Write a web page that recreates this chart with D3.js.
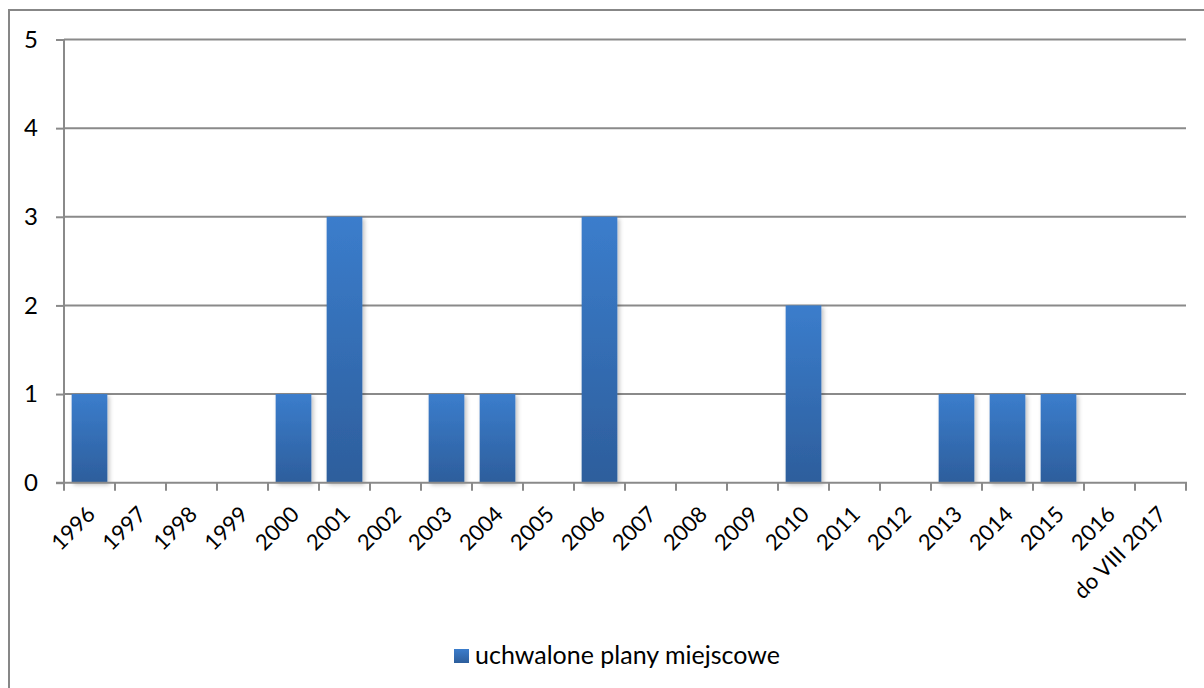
<!DOCTYPE html>
<html>
<head>
<meta charset="utf-8">
<script src="https://cdn.jsdelivr.net/npm/d3@7"></script>
<style>
  html, body { margin: 0; padding: 0; background: #fff; }
  svg { display: block; font-family: Lato, "Liberation Sans", sans-serif; }
</style>
</head>
<body>
<svg id="chart" width="1204" height="688"></svg>
<script>
// Adopted local plans per year
const categories = ["1996", "1997", "1998", "1999", "2000", "2001", "2002", "2003", "2004", "2005",
  "2006", "2007", "2008", "2009", "2010", "2011", "2012", "2013", "2014", "2015", "2016", "do VIII 2017"];
const values = [1, 0, 0, 0, 1, 3, 0, 1, 1, 0, 3, 0, 0, 0, 2, 0, 0, 1, 1, 1, 0, 0];
const yTicks = [0, 1, 2, 3, 4, 5];
const seriesName = "uchwalone plany miejscowe";

const svg = d3.select("#chart");
const plot = { left: 64, right: 1186, top: 39.5, bottom: 482.7 };
const gridColor = "#8a8a8a";
const labelSize = 22;

const defs = svg.append("defs");
const grad = defs.append("linearGradient")
  .attr("id", "barFill").attr("x1", 0).attr("y1", 0).attr("x2", 0).attr("y2", 1);
grad.append("stop").attr("offset", "0%").attr("stop-color", "#3b7dcc");
grad.append("stop").attr("offset", "100%").attr("stop-color", "#2d5e9c");

const shadow = defs.append("filter").attr("id", "barShadow")
  .attr("x", "-20%").attr("y", "-20%").attr("width", "150%").attr("height", "150%");
shadow.append("feDropShadow").attr("dx", 2).attr("dy", 2).attr("stdDeviation", 2)
  .attr("flood-color", "#000").attr("flood-opacity", 0.25);

// chart frame
svg.append("rect")
  .attr("x", 9).attr("y", 10).attr("width", 1204).attr("height", 700)
  .attr("fill", "none").attr("stroke", "#878787").attr("stroke-width", 2);

const xBand = d3.scaleBand().domain(categories).range([plot.left, plot.right]);
const barWidth = xBand.bandwidth() * 0.7;
const y = d3.scaleLinear().domain([0, 5]).range([plot.bottom, plot.top]);

// horizontal gridlines
svg.append("g").selectAll("line").data(yTicks.filter(d => d > 0)).join("line")
  .attr("x1", plot.left).attr("x2", plot.right)
  .attr("y1", d => y(d)).attr("y2", d => y(d))
  .attr("stroke", gridColor).attr("stroke-width", 2);

// bars
svg.append("g").selectAll("rect").data(categories.map((c, i) => ({ c, v: values[i] })).filter(d => d.v > 0))
  .join("rect")
  .attr("x", d => xBand(d.c) + (xBand.bandwidth() - barWidth) / 2)
  .attr("width", barWidth)
  .attr("y", d => y(d.v))
  .attr("height", d => y(0) - y(d.v))
  .attr("fill", "url(#barFill)")
  .attr("filter", "url(#barShadow)");

// y axis
const yAxis = svg.append("g").attr("transform", `translate(${plot.left},0)`)
  .call(d3.axisLeft(y).tickValues(yTicks).tickSize(8).tickPadding(18).tickFormat(d3.format("d")));
yAxis.select(".domain").attr("stroke", gridColor).attr("stroke-width", 2).attr("d", `M0,${plot.top}V${plot.bottom}`);
yAxis.selectAll(".tick line").attr("stroke", gridColor).attr("stroke-width", 2);
yAxis.selectAll(".tick text").attr("font-size", 24).attr("fill", "#000").attr("font-family", "Lato, sans-serif");

// x axis with ticks at band boundaries
const xAxis = svg.append("g").attr("transform", `translate(0,${plot.bottom})`);
xAxis.append("line").attr("x1", plot.left - 8).attr("x2", plot.right + 1)
  .attr("stroke", gridColor).attr("stroke-width", 2);
const boundaries = categories.map(c => xBand(c)).concat([plot.right]);
xAxis.selectAll("line.tk").data(boundaries).join("line").attr("class", "tk")
  .attr("x1", d => d).attr("x2", d => d).attr("y1", 0).attr("y2", 8)
  .attr("stroke", gridColor).attr("stroke-width", 2);
xAxis.selectAll("text").data(categories).join("text")
  .attr("transform", d => `translate(${xBand(d) + xBand.bandwidth() / 2 + 7},${33}) rotate(-45)`)
  .attr("text-anchor", "end")
  .attr("font-size", labelSize).attr("fill", "#000")
  .text(d => d);

// legend
const legend = svg.append("g").attr("transform", "translate(454,649)");
legend.append("rect").attr("width", 15).attr("height", 14).attr("fill", "url(#barFill)");
legend.append("text").attr("x", 21).attr("y", 15).attr("font-size", 25).attr("fill", "#000").text(seriesName);
</script>
</body>
</html>
